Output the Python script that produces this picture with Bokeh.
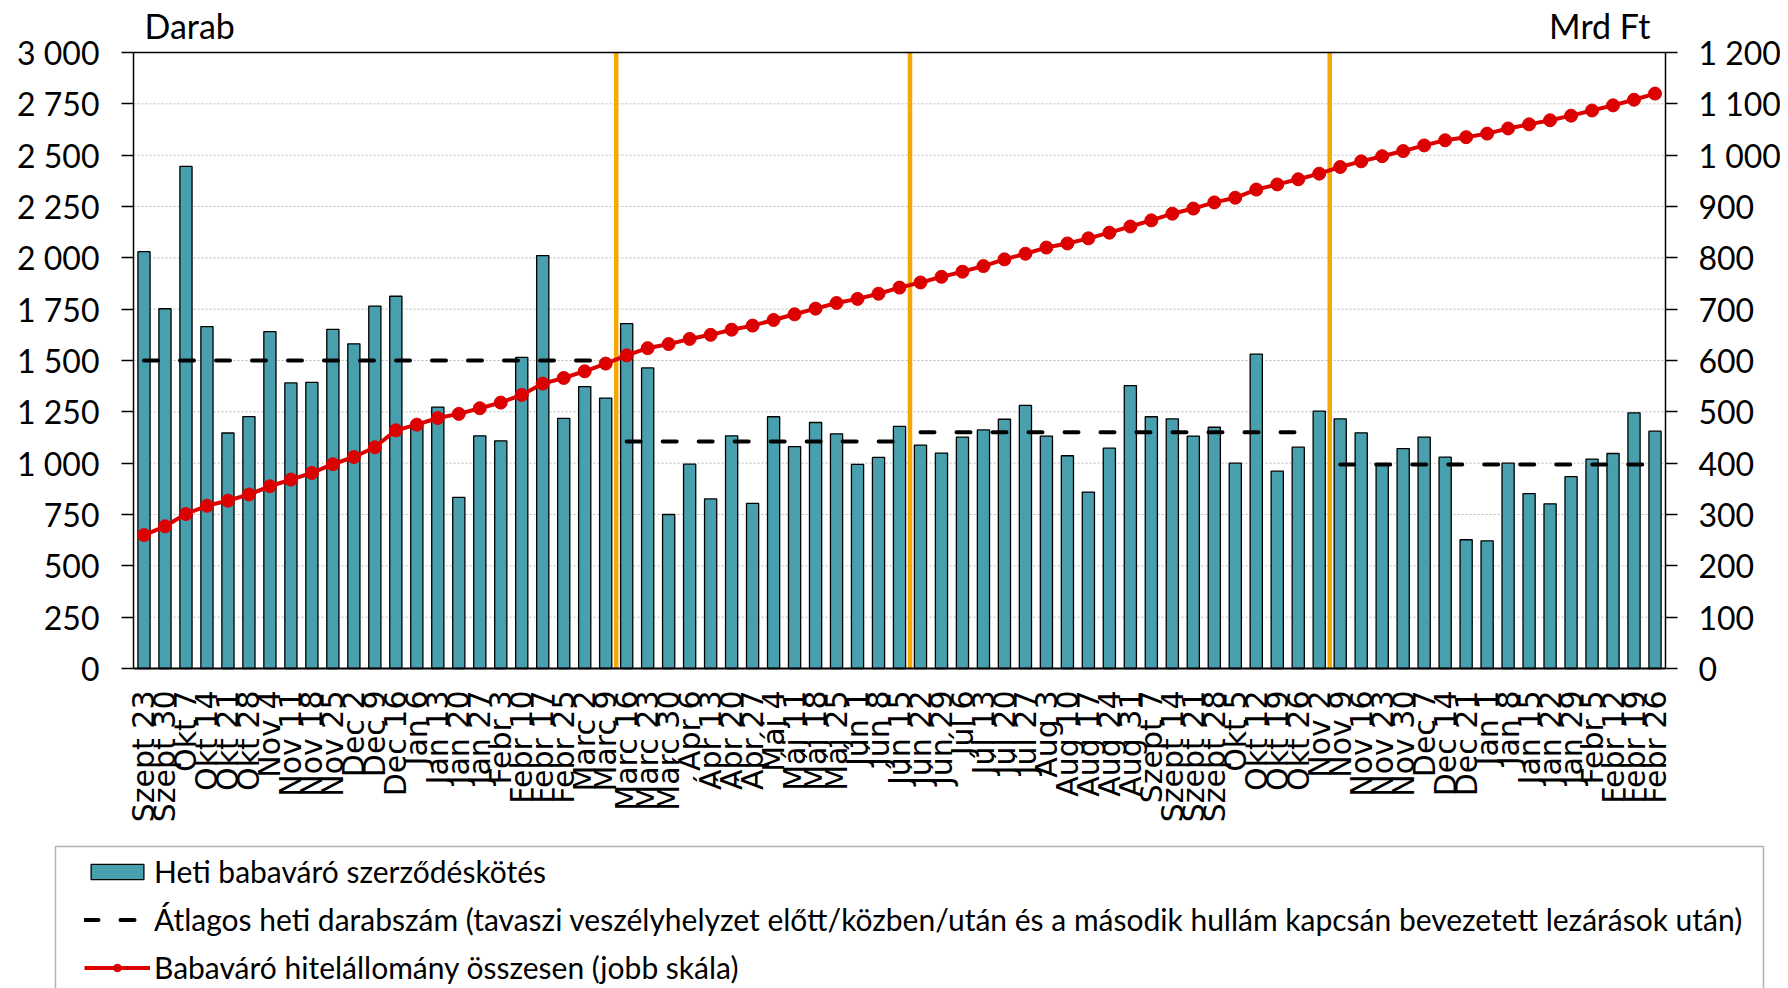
import math
from bokeh.plotting import figure
from bokeh.models import (Range1d, LinearAxis, FixedTicker, Legend, LegendItem,
                          ColumnDataSource, BoxAnnotation)
from bokeh.core.properties import value
from bokeh.embed import file_html
from bokeh.resources import INLINE

labels = ["Szept 23", "Szept 30", "Okt 7", "Okt 14", "Okt 21", "Okt 28", "Nov 4", "Nov 11",
          "Nov 18", "Nov 25", "Dec 2", "Dec 9", "Dec 16", "Jan 6", "Jan 13", "Jan 20", "Jan 27",
          "Febr 3", "Febr 10", "Febr 17", "Febr 25", "Marc 2", "Marc 9", "Marc 16", "Marc 23",
          "Marc 30", "Ápr 6", "Ápr 13", "Ápr 20", "Ápr 27", "Máj 4", "Máj 11", "Máj 18",
          "Máj 25", "Jún 1", "Jún 8", "Jún 15", "Jún 22", "Jún 29", "Júl 6", "Júl 13",
          "Júl 20", "Júl 27", "Aug 3", "Aug 10", "Aug 17", "Aug 24", "Aug 31", "Szept 7",
          "Szept 14", "Szept 21", "Szept 28", "Okt 5", "Okt 12", "Okt 19", "Okt 26", "Nov 2",
          "Nov 9", "Nov 16", "Nov 23", "Nov 30", "Dec 7", "Dec 14", "Dec 21", "Jan 1", "Jan 8",
          "Jan 15", "Jan 22", "Jan 29", "Febr 5", "Febr 12", "Febr 19", "Febr 26"]

weekly_contracts = [2030, 1752, 2445, 1665, 1147, 1227, 1641, 1391, 1393, 1652, 1581, 1765,
                    1813, 1185, 1273, 833, 1133, 1109, 1515, 2011, 1218, 1373, 1317, 1680,
                    1464, 750, 995, 826, 1133, 804, 1226, 1081, 1198, 1143, 994, 1028, 1179,
                    1088, 1049, 1127, 1162, 1214, 1281, 1132, 1036, 859, 1073, 1378, 1226,
                    1216, 1132, 1175, 1000, 1531, 961, 1078, 1253, 1216, 1148, 990, 1071,
                    1127, 1029, 627, 622, 1000, 852, 802, 934, 1020, 1047, 1245, 1156]

loan_stock = [260, 277, 301, 317, 327, 339, 355, 368, 381, 398, 412, 431, 464, 475, 488, 496,
              507, 518, 533, 555, 566, 579, 594, 610, 624, 632, 642, 650, 660, 668, 679, 690,
              701, 712, 720, 730, 742, 752, 763, 773, 784, 797, 808, 820, 828, 838, 849, 861,
              873, 886, 896, 908, 917, 933, 943, 953, 964, 977, 988, 998, 1008, 1019, 1029,
              1035, 1042, 1052, 1060, 1068, 1077, 1087, 1097, 1108, 1120]

avg_start = [0, 23, 37, 57]
avg_end = [22, 36, 55, 72]
avg_level = [1500, 1105, 1150, 993]

event_lines = [22.5, 36.5, 56.5]

left_ticks = list(range(0, 3001, 250))
right_ticks = list(range(0, 1201, 100))

left_title = "Darab"
right_title = "Mrd Ft"

legend_texts = ["Heti babaváró szerződéskötés",
                "Átlagos heti darabszám (tavaszi veszélyhelyzet előtt/közben/után és a második hullám kapcsán bevezetett lezárások után)",
                "Babaváró hitelállomány összesen (jobb skála)"]

FONT = "Lato"
BAR_COLOR = "#48A0AF"
RED = "#DD0000"
ORANGE = "#F5A800"

n = len(labels)
x = list(range(n))
L_MAX, R_MAX = left_ticks[-1], right_ticks[-1]

# ---- page geometry in pixels: the frame covers the whole canvas ----
W, H = 1780, 988
PL, PT, PR, PB = 133, 52, 1665, 668          # plotting area edges
xs = (PR - PL) / n                           # px per category
ys = (PB - PT) / L_MAX                       # px per left unit
rs = (PB - PT) / R_MAX                       # px per right unit
x0 = -0.5 - PL / xs


def dx(px):
    return x0 + px / xs


def dy(py):
    return (PB - py) / ys


p = figure(width=W, height=H, output_backend="svg", toolbar_location=None,
           x_range=Range1d(dx(0), dx(W)), y_range=Range1d(dy(H), dy(0)),
           min_border=0, min_border_left=0, min_border_right=0,
           min_border_top=0, min_border_bottom=0)
p.extra_y_ranges = {"right": Range1d(-(H - PB) / rs, R_MAX + PT / rs)}
p.outline_line_color = None
p.grid.visible = False
p.background_fill_color = "white"
p.border_fill_color = "white"


def style_y_axis(ax, ticks, standoff):
    ax.ticker = FixedTicker(ticks=ticks)
    ax.major_label_overrides = {v: f"{v:,}".replace(",", " ") for v in ticks}
    ax.major_label_text_font = FONT
    ax.major_label_text_font_size = "32px"
    ax.major_label_text_color = "black"
    ax.major_tick_out = 12
    ax.major_tick_in = 0
    ax.minor_tick_out = 0
    ax.minor_tick_in = 0
    ax.major_label_standoff = standoff
    ax.axis_line_color = "black"
    ax.axis_line_width = 1.5
    ax.major_tick_line_width = 1.5
    ax.bounds = (0, ticks[-1])


ya = p.yaxis[0]
style_y_axis(ya, left_ticks, 22)
ya.fixed_location = -0.5

ra = LinearAxis(y_range_name="right")
style_y_axis(ra, right_ticks, 21)
ra.fixed_location = n - 0.5
p.add_layout(ra, "right")

xa = p.xaxis[0]
xa.fixed_location = 0
xa.bounds = (-0.5, n - 0.5)
xa.ticker = FixedTicker(ticks=x)
xa.major_label_overrides = {i: labels[i] for i in x}
xa.major_label_orientation = math.pi / 2
xa.major_label_text_font = "DejaVu Sans"
xa.major_label_text_font_size = "30px"
xa.major_label_text_color = "black"
xa.major_tick_out = 0
xa.major_tick_in = 0
xa.minor_tick_out = 0
xa.minor_tick_in = 0
xa.major_label_standoff = 22
xa.axis_line_color = "black"
xa.axis_line_width = 2

# dotted horizontal gridlines at the inner left-axis ticks
inner = left_ticks[1:-1]
p.segment(x0=[-0.5] * len(inner), x1=[n - 0.5] * len(inner), y0=inner, y1=inner,
          line_color="#bdbdbd", line_width=1, line_dash="2 2")

src = ColumnDataSource(dict(x=x, bars=weekly_contracts, stock=loan_stock))

bar_style = dict(fill_color=BAR_COLOR, line_color="black", line_width=1.3)
avg_style = dict(line_color="black", line_width=4, line_dash="14 22", line_cap="round")
red_line_style = dict(line_color=RED, line_width=4)
red_pt_style = dict(size=13, marker="circle", fill_color=RED, line_color=RED)

bars = p.vbar(x="x", top="bars", width=0.58, bottom=0, source=src, **bar_style)
p.segment(x0=event_lines, x1=event_lines, y0=[0] * len(event_lines),
          y1=[L_MAX] * len(event_lines), line_color=ORANGE, line_width=4.5)
avg = p.segment(x0=avg_start, x1=avg_end, y0=avg_level, y1=avg_level, **avg_style)
red_line = p.line("x", "stock", source=src, y_range_name="right", **red_line_style)
red_pts = p.scatter("x", "stock", source=src, y_range_name="right", **red_pt_style)

# top border of the plotting area
p.segment(x0=[-0.5], x1=[n - 0.5], y0=[L_MAX], y1=[L_MAX], line_color="black",
          line_width=1.5)

# axis titles
p.text(x=[dx(144)], y=[dy(25)], text=[left_title], text_align="left",
       text_baseline="middle", text_font=value(FONT), text_font_size="34px",
       text_color="black")
p.text(x=[dx(1650)], y=[dy(25)], text=[right_title], text_align="right",
       text_baseline="middle", text_font=value(FONT), text_font_size="34px",
       text_color="black")

# legend
legend = Legend(items=[LegendItem(label=legend_texts[0], renderers=[bars]),
                       LegendItem(label=legend_texts[1], renderers=[avg]),
                       LegendItem(label=legend_texts[2], renderers=[red_line, red_pts])],
                location=(84, 3), orientation="vertical",
                label_text_font=FONT, label_text_font_size="30px",
                label_text_color="black", label_standoff=4,
                glyph_width=66, glyph_height=19, label_height=36, spacing=12,
                padding=0, margin=0, border_line_alpha=0, background_fill_alpha=0)
p.add_layout(legend, "center")
p.add_layout(BoxAnnotation(left=dx(55), right=dx(1763), top=dy(846), bottom=dy(H + 40),
                           fill_alpha=0, line_color="black", line_width=1.5))

open("out.html", "w").write(file_html(p, INLINE))
